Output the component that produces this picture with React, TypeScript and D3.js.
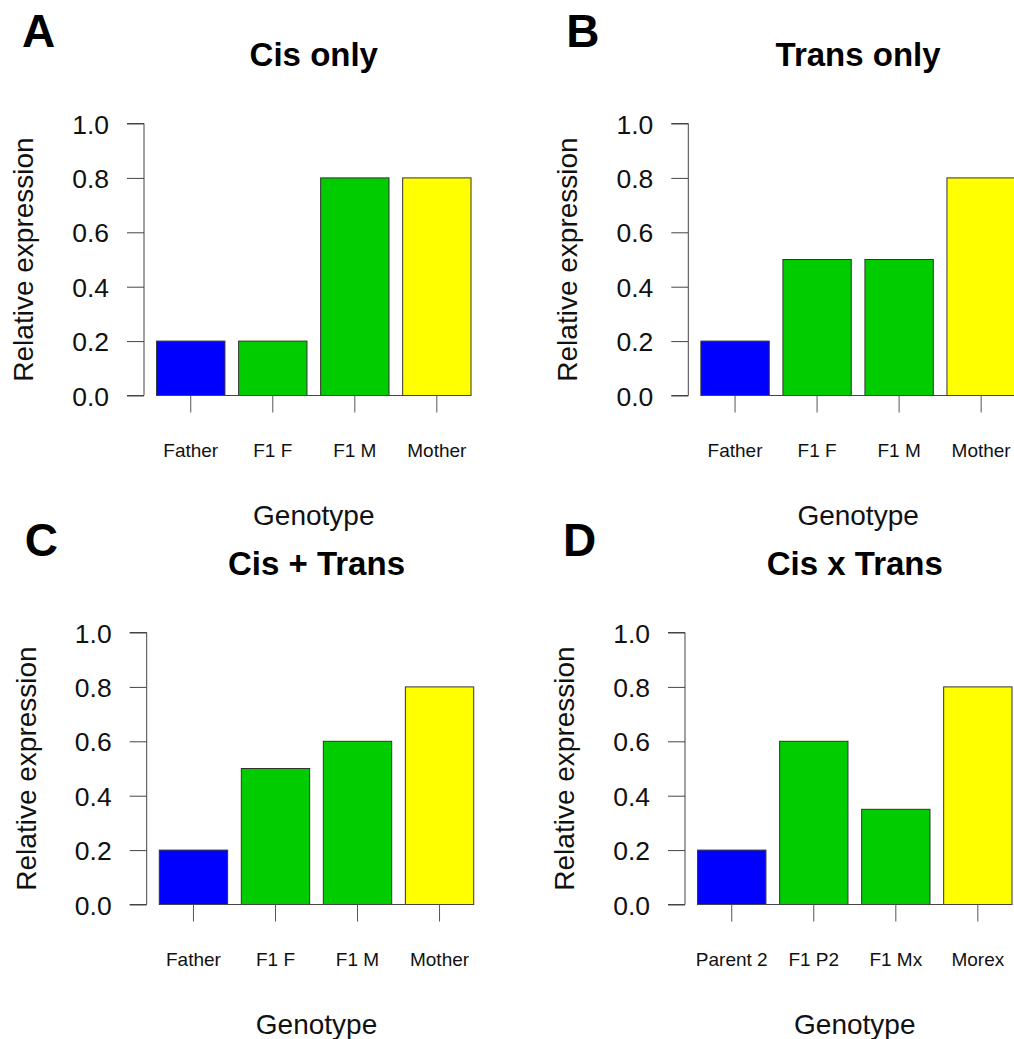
import { useEffect, useRef } from "react";
import * as d3 from "d3";

const W = 1014;
const H = 1039;

// data
const parentsLabels = ["Father", "F1 F", "F1 M", "Mother"];
const barleyLabels = ["Parent 2", "F1 P2", "F1 Mx", "Morex"];
const cisOnly = [0.2, 0.2, 0.8, 0.8];
const transOnly = [0.2, 0.5, 0.5, 0.8];
const cisPlusTrans = [0.2, 0.5, 0.6, 0.8];
const cisByTrans = [0.2, 0.6, 0.35, 0.8];
const barColors = ["#0000FF", "#00CC00", "#00CC00", "#FFFF00"];
const yTicks = [0, 0.2, 0.4, 0.6, 0.8, 1.0];

const panels = [
  { letter: "A", title: "Cis only", labels: parentsLabels, values: cisOnly, ox: 0, oy: 0 },
  { letter: "B", title: "Trans only", labels: parentsLabels, values: transOnly, ox: 544.3, oy: 0 },
  { letter: "C", title: "Cis + Trans", labels: parentsLabels, values: cisPlusTrans, ox: 2.7, oy: 509 },
  { letter: "D", title: "Cis x Trans", labels: barleyLabels, values: cisByTrans, ox: 541, oy: 509 },
];

const FONT = "Liberation Sans, Arial, Helvetica, sans-serif";

function App() {
  const ref = useRef<SVGSVGElement>(null);

  useEffect(() => {
    const svg = d3.select(ref.current);
    svg.selectAll("*").remove();

    panels.forEach((p) => {
      const g = svg.append("g").attr("transform", `translate(${p.ox},${p.oy})`);

      // R barplot style: width 1, space 0.2, 4% axis expansion
      const n = p.values.length;
      const lefts = p.values.map((_, i) => 0.2 + i * 1.2);
      const lo = 0.2, hi = 0.2 + n * 1.2 - 0.2;
      const pad = (hi - lo) * 0.04;
      const x = d3.scaleLinear().domain([lo - pad, hi + pad]).range([144, 483.6]);
      const y = d3.scaleLinear().domain([0, 1]).range([395.5, 123.5]);
      const cx = (x.range()[0] + x.range()[1]) / 2;

      // panel letter
      g.append("text")
        .attr("x", 22)
        .attr("y", 47)
        .attr("font-family", FONT)
        .attr("font-weight", "bold")
        .attr("font-size", 46)
        .text(p.letter);

      // title
      g.append("text")
        .attr("x", cx)
        .attr("y", 66)
        .attr("text-anchor", "middle")
        .attr("font-family", FONT)
        .attr("font-weight", "bold")
        .attr("font-size", 33)
        .text(p.title);

      // bars
      g.selectAll("rect.bar")
        .data(p.values)
        .join("rect")
        .attr("class", "bar")
        .attr("x", (_, i) => x(lefts[i]))
        .attr("width", (_, i) => x(lefts[i] + 1) - x(lefts[i]))
        .attr("y", (d) => y(d))
        .attr("height", (d) => y(0) - y(d))
        .attr("fill", (_, i) => barColors[i])
        .attr("stroke", "#333")
        .attr("stroke-width", 1);

      // baseline under the bars
      g.append("line")
        .attr("x1", x(lefts[0]))
        .attr("x2", x(lefts[n - 1] + 1))
        .attr("y1", y(0))
        .attr("y2", y(0))
        .attr("stroke", "#444");

      // y axis
      const yAxis = d3.axisLeft(y).tickValues(yTicks).tickFormat(d3.format(".1f")).tickSize(17).tickPadding(18);
      const ya = g.append("g").attr("transform", `translate(${x.range()[0]},0)`).call(yAxis);
      ya.select(".domain").attr("d", `M-17,${y(1)}H0V${y(0)}H-17`).attr("stroke", "#444").attr("fill", "none");
      ya.selectAll(".tick line").attr("stroke", "#444");
      ya.selectAll(".tick text")
        .attr("font-family", FONT)
        .attr("font-size", 26.5)
        .attr("fill", "#111")
        .attr("dy", "0.36em");

      // x ticks and labels
      const mids = lefts.map((l) => x(l + 0.5));
      g.selectAll("line.xt")
        .data(mids)
        .join("line")
        .attr("class", "xt")
        .attr("x1", (d) => d)
        .attr("x2", (d) => d)
        .attr("y1", y(0))
        .attr("y2", y(0) + 17)
        .attr("stroke", "#555");
      g.selectAll("text.xl")
        .data(p.labels)
        .join("text")
        .attr("class", "xl")
        .attr("x", (_, i) => mids[i])
        .attr("y", 457)
        .attr("text-anchor", "middle")
        .attr("font-family", FONT)
        .attr("font-size", 19)
        .attr("fill", "#111")
        .text((d) => d);

      // axis titles
      g.append("text")
        .attr("x", cx)
        .attr("y", 525)
        .attr("text-anchor", "middle")
        .attr("font-family", FONT)
        .attr("font-size", 28)
        .attr("fill", "#111")
        .text("Genotype");
      g.append("text")
        .attr("transform", `translate(33,${(y(0) + y(1)) / 2}) rotate(-90)`)
        .attr("text-anchor", "middle")
        .attr("font-family", FONT)
        .attr("font-size", 28)
        .attr("fill", "#111")
        .text("Relative expression");
    });
  }, []);

  return (
    <svg
      ref={ref}
      width={W}
      height={H}
      style={{ position: "absolute", left: 0, top: 0, background: "#fff" }}
    />
  );
}

export default App;
